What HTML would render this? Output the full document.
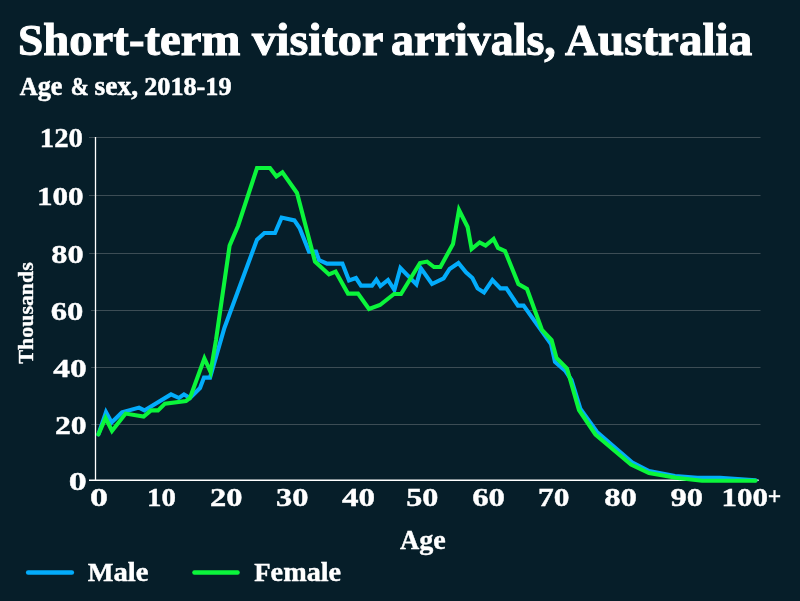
<!DOCTYPE html>
<html lang="en"><head><meta charset="utf-8"><title>Short-term visitor arrivals, Australia</title>
<style>
html,body{margin:0;padding:0;background:#061e29;}
body{width:800px;height:601px;overflow:hidden;font-family:"Liberation Serif",serif;}
svg{display:block;}
text{font-family:"Liberation Serif",serif;font-weight:bold;fill:#fff;stroke:#fff;}
</style></head><body>
<svg width="800" height="601" viewBox="0 0 800 601">
<rect width="800" height="601" fill="#061e29"/>
<line x1="89.0" x2="760.5" y1="137.5" y2="137.5" stroke="#3c4d55" stroke-width="1"/>
<line x1="89.0" x2="760.5" y1="195.5" y2="195.5" stroke="#3c4d55" stroke-width="1"/>
<line x1="89.1" x2="760.5" y1="253.5" y2="253.5" stroke="#3c4d55" stroke-width="1"/>
<line x1="91.0" x2="760.5" y1="310.5" y2="310.5" stroke="#3c4d55" stroke-width="1"/>
<line x1="91.1" x2="760.5" y1="367.5" y2="367.5" stroke="#3c4d55" stroke-width="1"/>
<line x1="91.2" x2="760.5" y1="424.5" y2="424.5" stroke="#3c4d55" stroke-width="1"/>
<line x1="89" x2="758.7" y1="480.3" y2="480.3" stroke="#fff" stroke-width="1.4"/>
<line x1="95.5" x2="95.5" y1="137" y2="481" stroke="#fff" stroke-width="1.3"/>
<text transform="translate(17.99,55.30) scale(1.0039,1.0000)" font-size="45.2" stroke-width="1.0"><tspan font-size="45.20">S</tspan><tspan font-size="46.56">hort-term</tspan></text>
<text transform="translate(251.92,55.30) scale(1.0383,1.0000)" font-size="45.2" stroke-width="1.0"><tspan font-size="46.56">visitor</tspan></text>
<text transform="translate(391.11,55.30) scale(0.9878,1.0000)" font-size="45.2" stroke-width="1.0"><tspan font-size="46.56">arrivals,</tspan></text>
<text transform="translate(565.00,55.30) scale(1.0103,1.0000)" font-size="45.2" stroke-width="1.0"><tspan font-size="45.20">A</tspan><tspan font-size="46.56">ustralia</tspan></text>
<text transform="translate(19.75,95.10) scale(0.9548,1.0000)" font-size="26" stroke-width="0.55"><tspan font-size="26.00">A</tspan><tspan font-size="27.43">ge</tspan></text>
<text transform="translate(70.71,94.92) scale(0.8333,0.9667)" font-size="26" stroke-width="0.55">&amp;</text>
<text transform="translate(94.60,95.10) scale(1.0012,1.0000)" font-size="26" stroke-width="0.55"><tspan font-size="27.43">sex,</tspan></text>
<text transform="translate(144.14,94.91) scale(1.0100,0.9889)" font-size="26" stroke-width="0.55">2018-19</text>
<text transform="translate(39.86,146.69) scale(1.1068,1.0111)" font-size="26" stroke-width="0.4">120</text>
<text transform="translate(36.90,204.70) scale(1.1973,1.0000)" font-size="26" stroke-width="0.4">100</text>
<text transform="translate(51.27,263.10) scale(1.2449,1.0000)" font-size="26" stroke-width="0.4">80</text>
<text transform="translate(50.81,320.10) scale(1.2551,1.0000)" font-size="26" stroke-width="0.4">60</text>
<text transform="translate(53.20,376.80) scale(1.2871,1.0000)" font-size="26" stroke-width="0.4">40</text>
<text transform="translate(54.88,433.70) scale(1.2204,1.0000)" font-size="26" stroke-width="0.4">20</text>
<text transform="translate(68.86,489.70) scale(1.3826,1.0000)" font-size="26" stroke-width="0.4">0</text>
<text transform="translate(89.96,505.70) scale(1.3826,0.9944)" font-size="26" stroke-width="0.4">0</text>
<text transform="translate(146.96,505.70) scale(1.1106,0.9944)" font-size="26" stroke-width="0.4">10</text>
<text transform="translate(210.06,505.70) scale(1.2490,0.9944)" font-size="26" stroke-width="0.4">20</text>
<text transform="translate(276.06,505.70) scale(1.2490,0.9944)" font-size="26" stroke-width="0.4">30</text>
<text transform="translate(342.00,505.70) scale(1.2713,0.9944)" font-size="26" stroke-width="0.4">40</text>
<text transform="translate(406.17,505.70) scale(1.2367,0.9944)" font-size="26" stroke-width="0.4">50</text>
<text transform="translate(472.15,505.70) scale(1.2612,0.9944)" font-size="26" stroke-width="0.4">60</text>
<text transform="translate(537.99,505.70) scale(1.2083,0.9944)" font-size="26" stroke-width="0.4">70</text>
<text transform="translate(604.15,505.70) scale(1.2612,0.9944)" font-size="26" stroke-width="0.4">80</text>
<text transform="translate(670.48,505.70) scale(1.2485,0.9944)" font-size="26" stroke-width="0.4">90</text>
<text transform="translate(721.41,505.70) scale(1.1918,1.0000)" font-size="26" stroke-width="0.4">100</text>
<text transform="translate(767.66,504.85) scale(0.9120,0.9388)" font-size="26" stroke-width="0.3">+</text>
<text transform="translate(400.00,548.70) scale(1.0056,1.0000)" font-size="26.5" stroke-width="0.4"><tspan font-size="26.50">A</tspan><tspan font-size="27.96">ge</tspan></text>
<text transform="translate(87.74,580.75) scale(1.0480,1.0000)" font-size="26" stroke-width="0.4"><tspan font-size="26.00">M</tspan><tspan font-size="27.43">ale</tspan></text>
<text transform="translate(254.24,580.75) scale(1.0299,1.0000)" font-size="26" stroke-width="0.4"><tspan font-size="26.00">F</tspan><tspan font-size="27.43">emale</tspan></text>
<text transform="translate(32.5,363.75) rotate(-90) scale(1.0222,1.0133)" font-size="20.3" stroke-width="0.35"><tspan font-size="20.30">T</tspan><tspan font-size="21.42">housands</tspan></text>
<polyline fill="none" stroke="#03acfb" stroke-width="4.1" stroke-linejoin="miter" stroke-linecap="round" points="98.4,434.4 106.0,412.0 111.6,422.4 122.0,412.4 139.0,407.6 144.4,410.4 171.0,394.4 179.0,398.0 184.0,394.4 190.0,398.0 200.0,388.0 204.0,377.6 210.0,377.6 224.4,328.0 257.0,239.6 264.4,233.0 275.0,233.0 281.6,217.6 294.4,220.4 299.6,228.0 309.0,251.6 316.0,251.6 319.0,260.0 327.0,263.6 342.4,263.6 349.0,280.4 356.0,278.0 361.0,285.6 372.0,285.6 376.4,279.6 380.4,286.0 388.0,280.0 394.4,290.0 400.4,268.0 416.4,284.4 421.0,268.4 432.0,284.0 443.6,278.4 449.6,269.0 458.4,263.0 466.0,272.4 472.4,278.0 477.6,288.4 484.0,292.4 492.4,280.0 500.4,288.4 506.4,288.4 518.0,305.6 523.6,305.6 551.0,344.0 555.0,362.0 565.5,371.0 571.5,380.0 580.5,409.0 597.0,432.0 632.0,462.4 649.0,471.0 675.0,476.0 697.5,477.7 720.0,477.8 755.5,480.3"/>
<polyline fill="none" stroke="#0bf53b" stroke-width="4.1" stroke-linejoin="miter" stroke-linecap="round" points="98.4,434.4 105.6,418.0 112.0,431.0 125.6,413.6 143.6,416.6 151.0,410.4 158.0,410.4 165.0,403.6 186.0,401.0 190.0,398.0 204.4,358.4 210.6,372.0 216.0,340.0 229.6,245.6 238.0,226.0 257.0,168.0 270.0,168.0 276.4,176.4 282.4,172.4 297.0,193.0 315.0,261.6 329.0,274.4 335.6,271.6 348.0,293.6 358.0,293.6 369.0,309.0 380.0,305.0 394.0,294.0 401.0,294.0 420.0,263.0 427.0,261.6 434.0,267.0 440.4,267.0 453.0,244.0 459.0,210.0 467.6,227.0 471.6,249.0 479.6,242.4 485.6,245.6 493.6,239.0 498.0,248.0 505.0,251.0 518.4,284.0 527.0,289.0 542.0,330.0 551.6,340.0 556.5,358.0 567.0,368.5 579.0,410.0 595.5,434.5 631.0,464.5 649.0,473.0 676.0,477.8 702.0,480.8 755.5,480.8"/>
<line x1="28.1" x2="71.9" y1="572.5" y2="572.5" stroke="#03acfb" stroke-width="4.4" stroke-linecap="round"/>
<line x1="194.4" x2="237.6" y1="572.5" y2="572.5" stroke="#0bf53b" stroke-width="4.4" stroke-linecap="round"/>
</svg></body></html>
